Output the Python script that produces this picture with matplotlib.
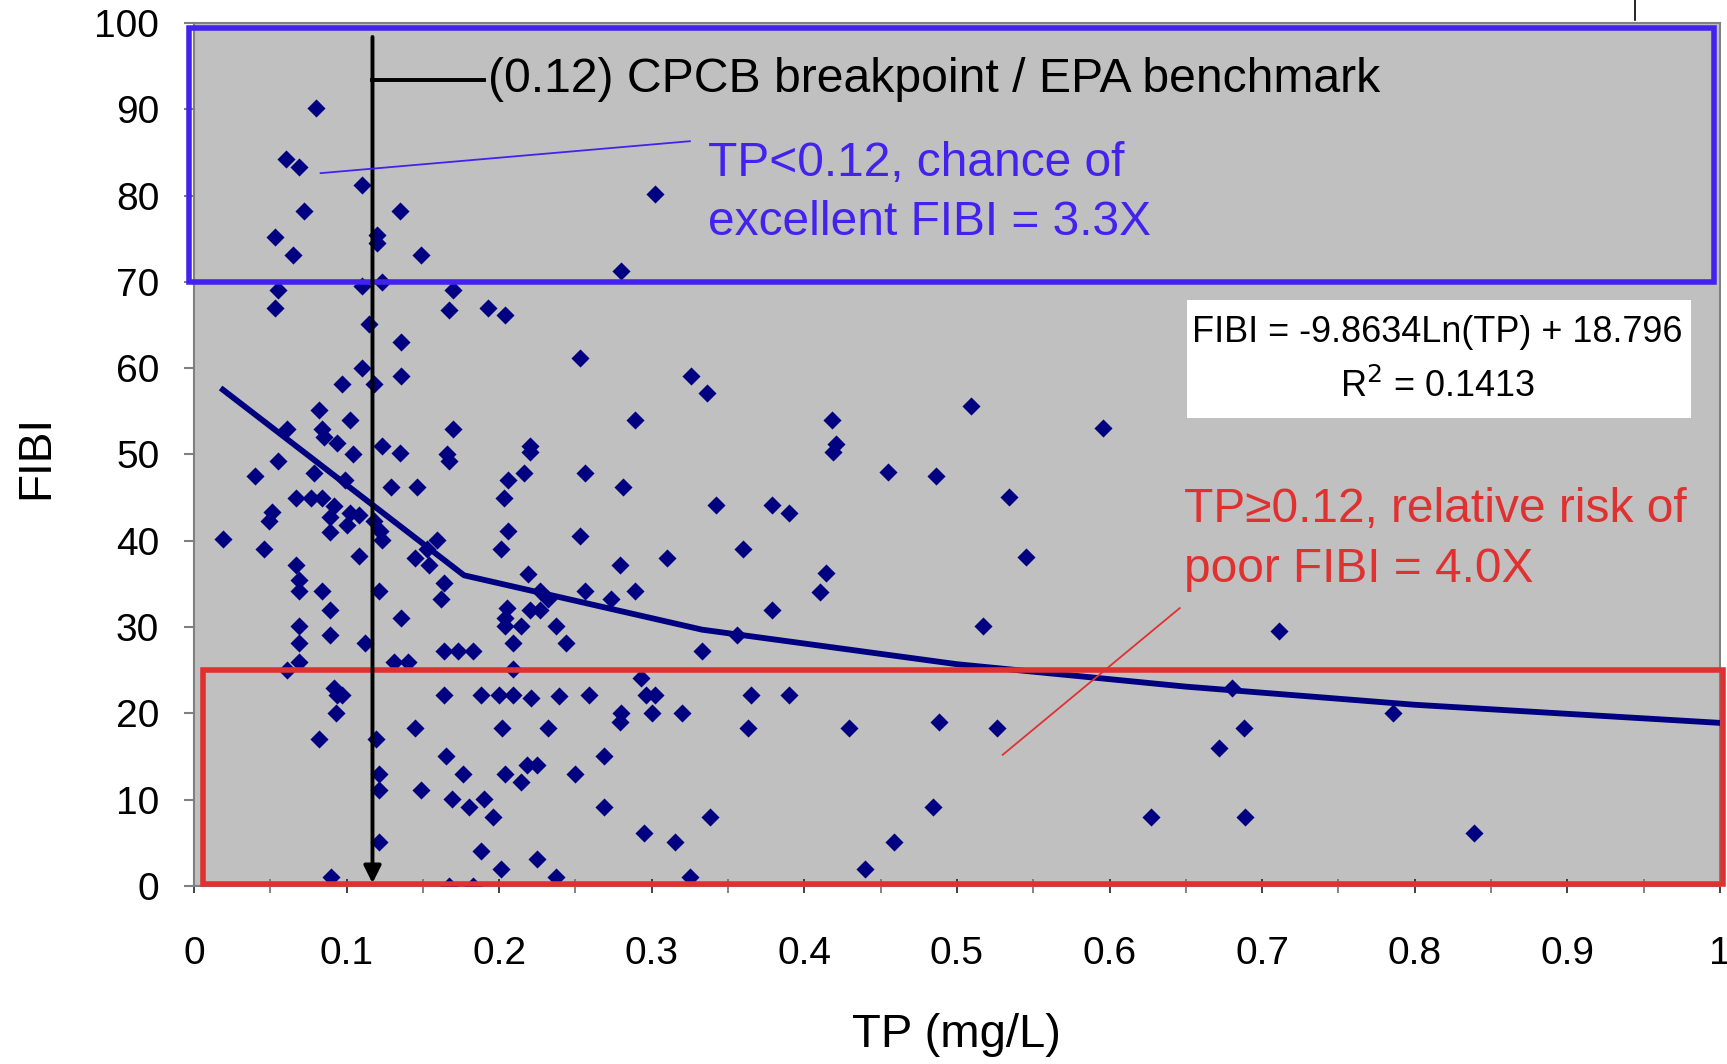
import numpy as np
import matplotlib; matplotlib.use('Agg')
import matplotlib.pyplot as plt
from matplotlib.lines import Line2D
from matplotlib.patches import Rectangle
from matplotlib.ticker import MultipleLocator

plt.rcParams['font.family'] = ['Liberation Sans', 'DejaVu Sans']

# TP (mg/L) vs FIBI (grouped by FIBI band)
tp = [0.080,0.060,0.069,0.110,0.302,0.072,0.135,0.120,0.120,0.053,0.149,0.065,0.280,0.123,0.110,0.055,0.170,0.053,0.167,0.193,0.204,0.115,0.136,0.253,0.110,
      0.326,0.136,0.118,0.097,0.336,0.509,0.082,0.289,0.102,0.418,0.596,0.061,0.084,0.170,0.085,0.094,0.123,0.220,0.220,0.421,0.419,0.104,0.135,0.166,
      0.167,0.055,0.256,0.455,0.486,0.079,0.040,0.216,0.206,0.099,0.281,0.146,0.129,0.203,0.534,0.067,0.077,0.084,0.092,0.342,0.379,0.390,0.051,0.102,0.089,0.108,0.049,0.118,0.100,0.089,0.122,0.206,0.123,0.019,0.159,0.253,
      0.201,0.046,0.360,0.153,0.108,0.545,0.145,0.310,0.154,0.067,0.279,0.164,0.414,0.069,0.069,0.219,0.121,0.289,0.084,0.227,0.410,0.162,0.232,0.256,0.273,0.205,0.220,0.227,0.379,0.089,0.136,0.204,0.517,0.204,0.214,0.069,0.237,
      0.711,0.356,0.089,0.112,0.244,0.209,0.069,0.333,0.164,0.173,0.183,0.131,0.140,0.069,0.209,0.061,0.293,0.680,0.092,0.094,0.296,0.302,0.164,0.188,0.200,0.209,0.221,0.239,0.259,0.365,0.390,0.097,0.786,0.093,0.280,0.320,0.300,
      0.279,0.119,0.082,0.232,0.145,0.202,0.363,0.429,0.526,0.688,0.488,0.672,0.269,0.165,0.250,0.204,0.121,0.176,0.218,0.225,0.214,0.121,0.149,0.169,0.190,0.180,0.269,0.484,0.196,0.338,0.627,0.689,0.839,0.295,0.315,0.121,0.459,0.188,0.225,0.440,0.201,0.090,0.237,0.325,0.167,0.183]
fibi = [90.2,84.2,83.3,81.2,80.2,78.2,78.2,75.4,74.5,75.2,73.1,73.1,71.3,70.0,69.5,69.1,69.1,67.0,66.7,67.0,66.2,65.1,63.0,61.2,60.0,
        59.1,59.1,58.2,58.2,57.1,55.6,55.2,54.0,54.0,54.0,53.1,53.0,53.0,53.0,52.0,51.3,51.0,51.0,50.3,51.2,50.3,50.0,50.2,50.0,
        49.3,49.2,47.9,48.0,47.5,47.9,47.5,47.9,47.0,47.0,46.2,46.2,46.2,45.0,45.1,45.0,45.0,45.0,44.0,44.2,44.2,43.2,43.3,43.2,42.8,43.0,42.3,42.3,41.8,41.0,41.1,41.1,40.1,40.2,40.1,40.5,
        39.0,39.1,39.0,39.1,38.2,38.1,38.0,38.0,37.2,37.2,37.2,35.1,36.3,35.5,34.2,36.1,34.2,34.2,34.2,34.2,34.1,33.2,33.3,34.2,33.2,32.2,32.0,32.0,32.0,32.0,31.0,31.0,30.1,30.1,30.1,30.1,30.1,
        29.5,29.1,29.1,28.1,28.1,28.1,28.1,27.2,27.2,27.2,27.2,26.0,26.0,26.0,25.2,25.0,24.1,23.0,23.0,22.1,22.1,22.1,22.1,22.1,22.1,22.1,21.8,22.0,22.1,22.1,22.1,22.1,20.0,20.0,20.0,20.0,20.0,
        19.0,17.0,17.0,18.3,18.3,18.3,18.3,18.3,18.3,18.3,19.0,16.0,15.1,15.1,13.0,13.0,13.0,13.0,14.0,14.0,12.0,11.1,11.1,10.1,10.1,9.1,9.1,9.1,8.0,8.0,8.0,8.0,6.1,6.1,5.1,5.1,5.1,4.1,3.1,2.0,2.0,1.0,1.0,1.0,0.0,0.0]

# log trendline as drawn (nodes of the polyline)
trend_tp = [0.019, 0.177, 0.333, 0.50, 0.65, 0.80, 1.00]
trend_fibi = [57.5, 36.0, 29.7, 25.7, 23.1, 21.0, 18.9]

bp = 0.117   # breakpoint line position
NAVY = '#000080'; BLUE = '#4422ee'; RED = '#e03131'

fig = plt.figure(figsize=(17.27, 10.64), dpi=100)
ax = fig.add_axes([0.1123, 0.1673, 0.8836, 0.8111])
ax.set_facecolor('#c0c0c0')
ax.set_xlim(0, 1); ax.set_ylim(0, 100)

ax.scatter(tp, fibi, marker='D', s=85, color=NAVY, zorder=4, linewidths=0)
ax.plot(trend_tp, trend_fibi, color=NAVY, lw=4.2, zorder=5)

# boxes
ax.add_patch(Rectangle((-0.003, 70.0), 0.999, 29.4, fill=False, ec=BLUE, lw=4, zorder=6, clip_on=False))
ax.add_patch(Rectangle((0.006, 0.25), 0.996, 24.75, fill=False, ec=RED, lw=4, zorder=6, clip_on=False))

# breakpoint arrow + label
ax.annotate('', xy=(bp, 0), xytext=(bp, 98.7),
            arrowprops=dict(arrowstyle='-|>', lw=2.8, color='black', mutation_scale=26), zorder=7)
ax.plot([bp, 0.19], [93.4, 93.4], color='black', lw=2.8, zorder=7)
ax.text(0.1926, 93.4, '(0.12) CPCB breakpoint / EPA benchmark', fontsize=34.7, va='center', ha='left', zorder=8)

# callouts
ax.plot([0.083, 0.325], [82.6, 86.3], color=BLUE, lw=1.3, zorder=7)
ax.text(0.337, 83.7, 'TP<0.12, chance of', color=BLUE, fontsize=34.5, va='center', ha='left', zorder=8)
ax.text(0.337, 76.9, 'excellent FIBI = 3.3X', color=BLUE, fontsize=34.5, va='center', ha='left', zorder=8)
ax.plot([0.530, 0.646], [15.2, 32.2], color=RED, lw=1.3, zorder=7)
ax.text(0.6486, 43.6, 'TP\u22650.12, relative risk of', color=RED, fontsize=34.5, va='center', ha='left', zorder=8)
ax.text(0.6486, 36.7, 'poor FIBI = 4.0X', color=RED, fontsize=34.5, va='center', ha='left', zorder=8)

# equation box
ax.add_patch(Rectangle((0.651, 54.2), 0.330, 13.7, fc='white', ec='none', zorder=6))
ax.text(0.815, 64.1, 'FIBI = -9.8634Ln(TP) + 18.796', fontsize=25.9, ha='center', va='center', zorder=8)
ax.text(0.815, 57.8, 'R$^2$ = 0.1413', fontsize=25.9, ha='center', va='center', zorder=8)

# axes styling
for s in ax.spines.values():
    s.set_color('#808080'); s.set_linewidth(1.5)
ax.xaxis.set_major_locator(MultipleLocator(0.1))
ax.xaxis.set_minor_locator(MultipleLocator(0.05))
ax.yaxis.set_major_locator(MultipleLocator(10))
ax.set_xticklabels(['0' if abs(v) < 1e-9 else ('1' if abs(v - 1) < 1e-9 else f'{v:.1f}') for v in ax.get_xticks()])
ax.tick_params(axis='x', which='both', direction='inout', length=10, width=1.2, color='#202020', labelsize=28, pad=31)
ax.tick_params(axis='x', which='minor', color='#707070')
ax.tick_params(axis='y', direction='out', length=7, width=1.5, color='#808080', labelsize=28, pad=18)

fig.text(0.5536, 0.0273, 'TP (mg/L)', fontsize=34, ha='center', va='center')
fig.text(0.0208, 0.5704, 'FIBI', fontsize=33, ha='center', va='center', rotation=90)
fig.add_artist(Line2D([0.9467, 0.9467], [0.981, 1.0], color='black', lw=1.2))

fig.savefig('out.png', dpi=100)
